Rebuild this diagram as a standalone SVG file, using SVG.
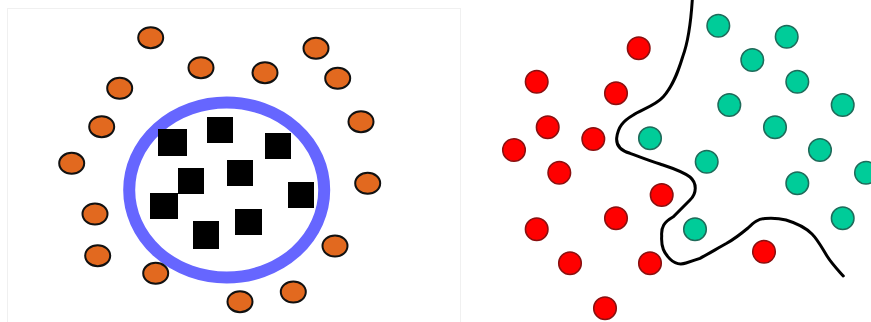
<svg xmlns="http://www.w3.org/2000/svg" width="871" height="322" viewBox="0 0 871 322">
<style>
.o{fill:#e2691f;stroke:#111;stroke-width:2}
.sq{fill:#000}
.r{fill:#ff0000;stroke:#8a1010;stroke-width:1.5}
.t{fill:#00cc99;stroke:#1f6b5a;stroke-width:1.5}
</style>
<rect x="0" y="0" width="871" height="322" fill="#fff"/>
<g id="left-panel">
<rect x="7.5" y="8.5" width="453" height="320" fill="none" stroke="#f0f0f0" stroke-width="1"/>
<ellipse id="ring" cx="226.7" cy="190" rx="97.5" ry="87.5" fill="none" stroke="#6666ff" stroke-width="12"/>
<g id="orange">
<ellipse class="o" cx="150.7" cy="37.7" rx="12.5" ry="10.5"/>
<ellipse class="o" cx="316" cy="48.3" rx="12.5" ry="10.5"/>
<ellipse class="o" cx="201" cy="67.7" rx="12.5" ry="10.5"/>
<ellipse class="o" cx="265" cy="72.7" rx="12.5" ry="10.5"/>
<ellipse class="o" cx="337.7" cy="78.3" rx="12.5" ry="10.5"/>
<ellipse class="o" cx="119.7" cy="88.3" rx="12.5" ry="10.5"/>
<ellipse class="o" cx="361" cy="121.7" rx="12.5" ry="10.5"/>
<ellipse class="o" cx="101.7" cy="126.7" rx="12.5" ry="10.5"/>
<ellipse class="o" cx="71.7" cy="163.3" rx="12.5" ry="10.5"/>
<ellipse class="o" cx="367.7" cy="183.3" rx="12.5" ry="10.5"/>
<ellipse class="o" cx="95" cy="214" rx="12.5" ry="10.5"/>
<ellipse class="o" cx="335" cy="246" rx="12.5" ry="10.5"/>
<ellipse class="o" cx="97.7" cy="255.7" rx="12.5" ry="10.5"/>
<ellipse class="o" cx="155.7" cy="273.3" rx="12.5" ry="10.5"/>
<ellipse class="o" cx="293.3" cy="292" rx="12.5" ry="10.5"/>
<ellipse class="o" cx="240" cy="301.7" rx="12.5" ry="10.5"/>
</g>
<g id="squares">
<rect class="sq" x="158" y="129" width="29" height="27"/>
<rect class="sq" x="207" y="117" width="26" height="26"/>
<rect class="sq" x="265" y="133" width="26" height="26"/>
<rect class="sq" x="178" y="168" width="26" height="26"/>
<rect class="sq" x="227" y="160" width="26" height="26"/>
<rect class="sq" x="150" y="193" width="28" height="26"/>
<rect class="sq" x="288" y="182" width="26" height="26"/>
<rect class="sq" x="235" y="209" width="27" height="26"/>
<rect class="sq" x="193" y="221" width="26" height="28"/>
</g>
</g>
<g id="right-panel">
<path id="boundary" d="M692.3,0 C691,20 689,40 682.7,56.7 C678,72 673,86 663.3,96.7 C655,106 640,110 633.3,115 C623,121 618,127 616.7,138 C616,146 622,151 630,153.3 C640,157 650,161 660,164 C672,168 682,171 690,177 C697,183 697,193 690,200 C683,207 678,212 673.3,216.7 C664,222 661,227 661.7,236 C661,247 664,253 670,259 C675,264 680,265 686,263 C692,261 695,260 700,258.3 C710,253 718,248 726.7,243.3 C736,238 742,233 748,228 C754,222 758,219 765,218.5 C772,218 778,218 786,220 C796,223 806,228 812,234 C818,240 822,248 827,256 C832,264 838,270 843.3,276" fill="none" stroke="#000" stroke-width="3" stroke-linecap="round"/>
<g id="red">
<circle class="r" cx="638.7" cy="48.3" r="11.3"/>
<circle class="r" cx="536.7" cy="81.7" r="11.3"/>
<circle class="r" cx="616" cy="93.3" r="11.3"/>
<circle class="r" cx="547.7" cy="127.3" r="11.3"/>
<circle class="r" cx="593.3" cy="139" r="11.3"/>
<circle class="r" cx="514" cy="150" r="11.3"/>
<circle class="r" cx="559.3" cy="172.7" r="11.3"/>
<circle class="r" cx="661.7" cy="195" r="11.3"/>
<circle class="r" cx="616" cy="218.3" r="11.3"/>
<circle class="r" cx="536.7" cy="229.3" r="11.3"/>
<circle class="r" cx="570" cy="263.3" r="11.3"/>
<circle class="r" cx="650" cy="263.3" r="11.3"/>
<circle class="r" cx="764" cy="251.7" r="11.3"/>
<circle class="r" cx="605" cy="308.3" r="11.3"/>
</g>
<g id="teal">
<circle class="t" cx="718.3" cy="25.7" r="11.3"/>
<circle class="t" cx="786.7" cy="36.7" r="11.3"/>
<circle class="t" cx="752.3" cy="60" r="11.3"/>
<circle class="t" cx="797.3" cy="81.7" r="11.3"/>
<circle class="t" cx="729.3" cy="105" r="11.3"/>
<circle class="t" cx="842.7" cy="105" r="11.3"/>
<circle class="t" cx="775" cy="127.3" r="11.3"/>
<circle class="t" cx="650" cy="138.3" r="11.3"/>
<circle class="t" cx="820" cy="150" r="11.3"/>
<circle class="t" cx="706.7" cy="161.7" r="11.3"/>
<circle class="t" cx="866" cy="172.7" r="11.3"/>
<circle class="t" cx="797.3" cy="183.3" r="11.3"/>
<circle class="t" cx="842.7" cy="218.3" r="11.3"/>
<circle class="t" cx="695" cy="229.3" r="11.3"/>
</g>
</g>
</svg>
